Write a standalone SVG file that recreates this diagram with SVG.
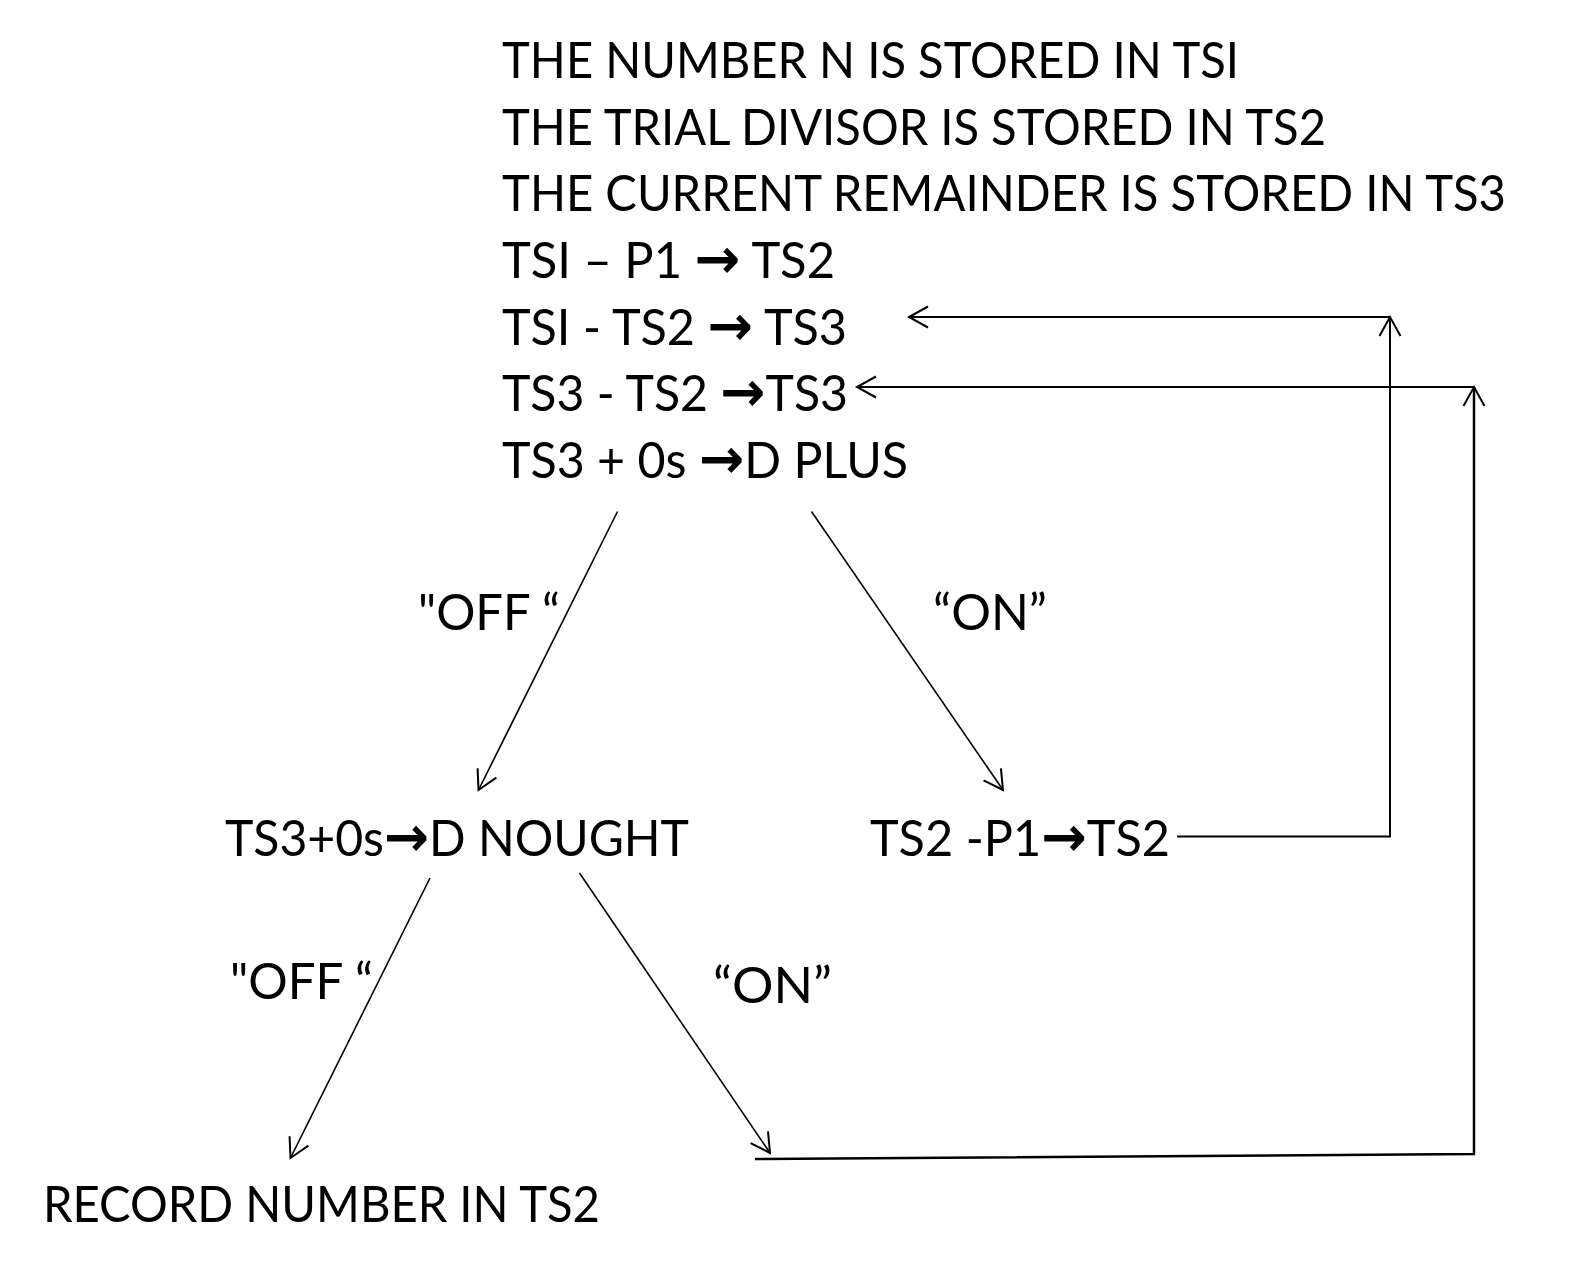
<svg xmlns="http://www.w3.org/2000/svg" width="1582" height="1286" viewBox="0 0 1582 1286">
<style>
text{font-family:Lato,"Open Sans","Liberation Sans",sans-serif;font-size:50px;fill:#000}
.ar{font-family:"DejaVu Sans",sans-serif;font-weight:bold;font-size:56px}
.c{fill:none;stroke:#000;stroke-width:2}
.thin{stroke-width:1.6}
</style>
<defs>
<marker id="ah" markerUnits="userSpaceOnUse" viewBox="-22 -13 26 26" refX="0" refY="0" markerWidth="26" markerHeight="26" orient="auto">
<path d="M-19,-10.5 L0,0 L-19,10.5" fill="none" stroke="#000" stroke-width="2"/>
</marker>
</defs>
<rect width="1582" height="1286" fill="#fff"/>
<g id="header">
<text x="502" y="78" textLength="737" lengthAdjust="spacingAndGlyphs">THE NUMBER N IS STORED IN TSI</text>
<text x="502" y="145" textLength="824" lengthAdjust="spacingAndGlyphs">THE TRIAL DIVISOR IS STORED IN TS2</text>
<text x="502" y="211" textLength="1004" lengthAdjust="spacingAndGlyphs">THE CURRENT REMAINDER IS STORED IN TS3</text>
</g>
<g id="step1"><text x="502" y="278" textLength="333" lengthAdjust="spacingAndGlyphs">TSI – P1 <tspan class="ar">→</tspan> TS2</text></g>
<g id="step2"><text x="502" y="345" textLength="345" lengthAdjust="spacingAndGlyphs">TSI - TS2 <tspan class="ar">→</tspan> TS3</text></g>
<g id="step3"><text x="502" y="411" textLength="346" lengthAdjust="spacingAndGlyphs">TS3 - TS2 <tspan class="ar">→</tspan>TS3</text></g>
<g id="dplus"><text x="502" y="478" textLength="406" lengthAdjust="spacingAndGlyphs">TS3 + 0s <tspan class="ar">→</tspan>D PLUS</text></g>
<g id="dnought"><text x="225" y="856" textLength="464" lengthAdjust="spacingAndGlyphs">TS3+0s<tspan class="ar">→</tspan>D NOUGHT</text></g>
<g id="decrement"><text x="870" y="856" textLength="300" lengthAdjust="spacingAndGlyphs">TS2 -P1<tspan class="ar">→</tspan>TS2</text></g>
<g id="record"><text x="43" y="1222" textLength="557" lengthAdjust="spacingAndGlyphs">RECORD NUMBER IN TS2</text></g>
<g id="connectors">
<line class="c thin" x1="617.5" y1="511.5" x2="478.5" y2="790" marker-end="url(#ah)"/>
<line class="c thin" x1="811.5" y1="511.5" x2="1003" y2="790" marker-end="url(#ah)"/>
<line class="c thin" x1="430" y1="878" x2="290.5" y2="1158" marker-end="url(#ah)"/>
<line class="c thin" x1="579.5" y1="873" x2="770" y2="1153" marker-end="url(#ah)"/>
<polyline class="c" points="1177,836.5 1390,836.5 1390,317" marker-end="url(#ah)"/>
<line class="c" x1="1390" y1="317" x2="909" y2="317" marker-end="url(#ah)"/>
<polyline class="c" points="755,1159 1474,1154 1474,387" marker-end="url(#ah)" style="stroke-width:2.5"/>
<line class="c" x1="1474" y1="387" x2="857" y2="387" marker-end="url(#ah)"/>
<text x="418" y="630" textLength="142" lengthAdjust="spacingAndGlyphs">"OFF “</text>
<text x="933" y="630" textLength="114" lengthAdjust="spacingAndGlyphs">“ON”</text>
<text x="230" y="999" textLength="143" lengthAdjust="spacingAndGlyphs">"OFF “</text>
<text x="713" y="1003" textLength="119" lengthAdjust="spacingAndGlyphs">“ON”</text>
</g>
</svg>
